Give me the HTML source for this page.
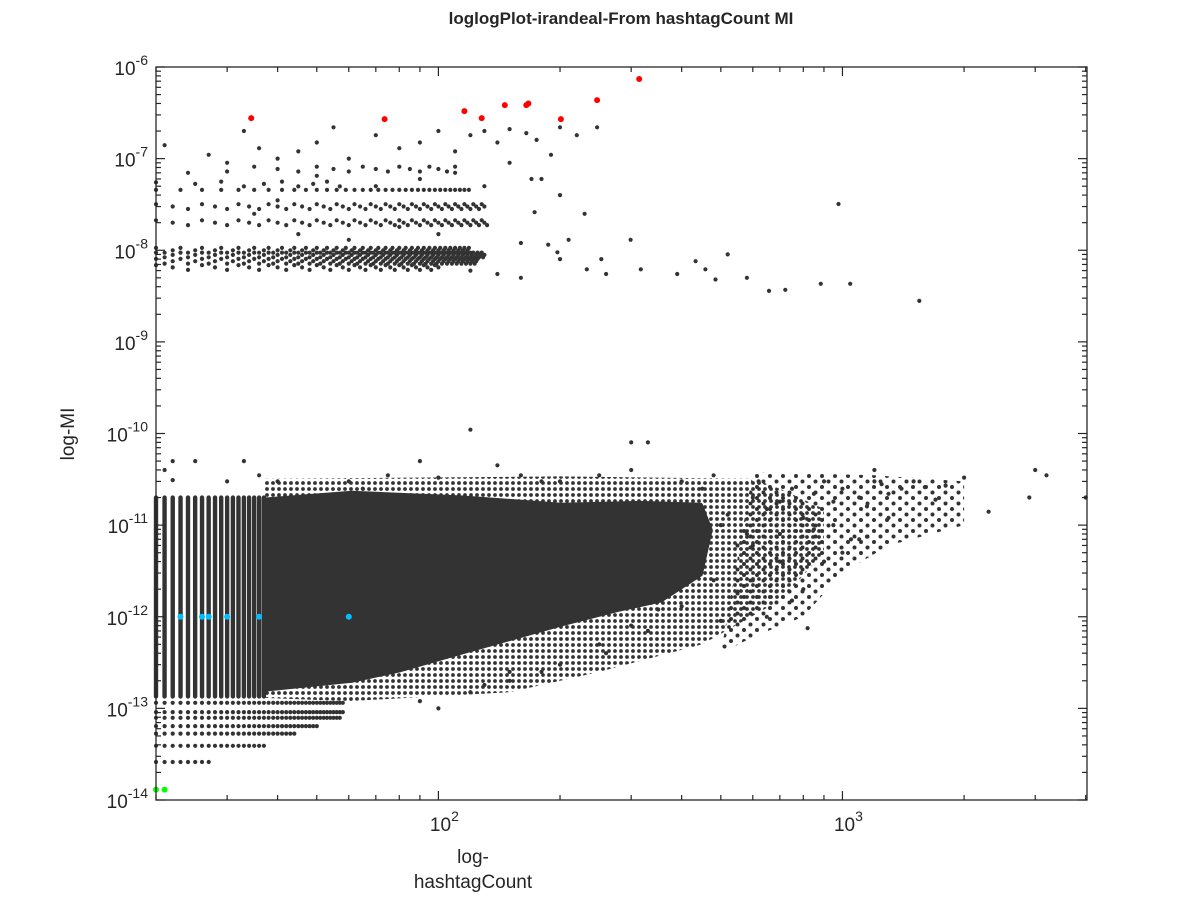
<!DOCTYPE html>
<html><head><meta charset="utf-8"><style>
body{margin:0;background:#fff;}
svg text{font-family:"Liberation Sans",sans-serif;fill:#262626;}
</style></head><body>
<svg id="chart" width="1200" height="900" viewBox="0 0 1200 900" xmlns="http://www.w3.org/2000/svg">
<defs>
<pattern id="medDots" patternUnits="userSpaceOnUse" width="6" height="6"><circle cx="3" cy="3" r="1.9" fill="#333"/></pattern>
<pattern id="sparseDots" patternUnits="userSpaceOnUse" width="13" height="11"><circle cx="3" cy="3" r="2" fill="#333"/><circle cx="9.5" cy="8.5" r="2" fill="#333"/></pattern>
</defs>
<rect width="1200" height="900" fill="#fff"/>
<rect x="156" y="67" width="931" height="733" fill="#fff"/>
<g id="marks"></g>
<g id="axes"></g>
<text x="621" y="24" font-size="17" font-weight="bold" text-anchor="middle">loglogPlot-irandeal-From hashtagCount MI</text>
<text x="473" y="863" font-size="19" text-anchor="middle">log-</text>
<text x="473" y="888" font-size="19" text-anchor="middle">hashtagCount</text>
<text transform="translate(74,434) rotate(-90)" font-size="19" text-anchor="middle">log-MI</text>
</svg>
<script>
const xMin=20, xMax=4030, yMin=1e-14, yMax=1e-6;
const L=156, R=1087, T=67, B=800;
const yTickExps=[-6,-7,-8,-9,-10,-11,-12,-13,-14];
const xTickExps=[2,3];
// dense cloud outline (count, MI)
const cloudX=[37,61,115,201,317,446,472,446,355,281,201,115,80,61,37];
const cloudY=[1.9e-11,2.26e-11,2.0e-11,1.67e-11,1.75e-11,1.67e-11,8.9e-12,2.9e-12,1.5e-12,1.2e-12,8.2e-13,4.1e-13,2.6e-13,2.0e-13,1.6e-13];
// medium-density zone outline
const medX=[37,200,600,700,900,900,700,450,250,150,60,37];
const medY=[3.2e-11,3.4e-11,3.2e-11,2.5e-11,1.5e-11,5e-12,1.5e-12,5e-13,2.5e-13,1.5e-13,1.2e-13,1.3e-13];
// sparse zone outline
const sparseX=[600,1200,2000,2000,1300,1000,800,600,500];
const sparseY=[3.8e-11,3.5e-11,3e-11,1e-11,6e-12,3e-12,1e-12,6e-13,4e-13];
// low-count vertical columns
const colCounts=[20,21,22,23,24,25,26,27,28,29,30,31,32,33,34,35,36,37];
const colTop=2.0e-11, colBottom=1.35e-13;
// discrete rows at bottom-left
const rowY=[1.15e-13,9.1e-14,7.9e-14,6.4e-14,5.3e-14,3.9e-14,2.6e-14];
const rowMax=[58,58,57,50,44,37,27];
// upper bands
const bandY=[1.0e-8,8.9e-9,7.6e-9,6.5e-9,2.0e-8,3.0e-8,4.3e-8,5.3e-8,7.7e-8];
const bandMin=[20,20,20,20,20,20,20,25,30];
const bandMax=[120,130,125,100,133,130,120,60,110];
const bandStep=[1,1,1,2,2,2,3,4,5];
const scatterX=[173,187,197,233,253,299,317,458,485,658,978,1550,1045,722,884,433,580,390,520,
20,21,24,27,30,33,36,40,45,50,55,60,70,80,90,100,110,120,130,140,150,165,175,190,200,247,220,110,150,170,200,230,90,70,130,50,40,35,45,60,80,100,160,210,180,200,260,160,140,120,
500,550,600,650,700,750,800,850,900,950,1000,1100,1150,1200,1250,1300,1400,1500,1600,1700,1800,2000,2300,3000,3200,2900,4000,1100,1150,1050,900,700,800,750,820,600,650,550,500,600,520,450,400,300,480,620,1200,1300,1000,850,950,700,580,450,420,380,350,300,250,200,150,120,180,260,330,400,480,100,90,130,150,
21,22,25,30,33,36,40,60,75,90,120,140,160,180,250,300,330,100,200,65,22];
const scatterY=[2.6e-8,1.15e-8,9.5e-9,6.2e-9,8.0e-9,1.3e-8,6.2e-9,6.2e-9,4.8e-9,3.6e-9,3.2e-8,2.8e-9,4.3e-9,3.7e-9,4.3e-9,7.6e-9,5e-9,5.5e-9,9e-9,
5.5e-8,1.4e-7,7e-8,1.1e-7,9e-8,2e-7,1.3e-7,1e-7,1.2e-7,1.5e-7,2.2e-7,1e-7,1.8e-7,1.3e-7,1.5e-7,2e-7,1.2e-7,1.8e-7,2e-7,1.5e-7,2.1e-7,1.9e-7,1.6e-7,1.1e-7,2.2e-7,2.2e-7,1.8e-7,7e-8,9e-8,6e-8,4e-8,2.5e-8,6e-8,5e-8,5e-8,6.5e-8,3.5e-8,2.5e-8,1.5e-8,1.3e-8,1.8e-8,1.5e-8,1.2e-8,1.3e-8,6e-8,8e-9,5.5e-9,5e-9,5.5e-9,6e-9,
1e-11,6e-12,2e-11,1.5e-11,8e-12,2.5e-11,1.2e-11,2.2e-11,3e-11,1.8e-11,2.5e-11,2e-11,1.6e-11,3e-11,2.8e-11,2.2e-11,2.5e-11,3e-11,2.6e-11,1.9e-11,2.7e-11,3.3e-11,1.4e-11,4e-11,3.5e-11,2e-11,2e-11,7e-12,7.5e-12,7e-12,4e-12,4e-12,2e-12,1.5e-12,7.5e-13,2.5e-12,1e-12,1.8e-12,9e-13,6e-12,1.3e-11,2.5e-11,3e-11,8e-11,3.5e-11,3e-11,4e-11,1.2e-11,5e-12,9e-12,1e-11,1.8e-11,8e-12,5e-12,3e-12,2e-12,1.2e-12,8e-13,5e-13,3e-13,2e-13,1.5e-13,2.5e-13,4e-13,7e-13,1.3e-12,2.5e-12,1e-13,1.2e-13,1.8e-13,2.5e-13,
4e-11,5e-11,5e-11,3e-11,5e-11,3.5e-11,3e-11,3e-11,3.5e-11,5e-11,1.1e-10,4.5e-11,3.5e-11,3e-11,3.5e-11,4e-11,8e-11,3.3e-11,3e-11,2.5e-11,3.1e-11];
const redX=[34.4,73.6,116,128,146,165,167,201,247,314];
const redY=[2.77e-7,2.7e-7,3.3e-7,2.77e-7,3.84e-7,3.84e-7,4.0e-7,2.7e-7,4.35e-7,7.4e-7];
const cyanX=[23,26,27,30,36,60];
const cyanY=[1e-12,1e-12,1e-12,1e-12,1e-12,1e-12];
const greenX=[20,21];
const greenY=[1.3e-14,1.3e-14];

const NS="http://www.w3.org/2000/svg";
function sx(v){return L+(Math.log10(v)-Math.log10(xMin))/(Math.log10(xMax)-Math.log10(xMin))*(R-L);}
function sy(v){return B-(Math.log10(v)-Math.log10(yMin))/(Math.log10(yMax)-Math.log10(yMin))*(B-T);}
const marks=document.getElementById('marks'), axes=document.getElementById('axes');
function mk(tag,parent,attrs){const e=document.createElementNS(NS,tag);for(const k in attrs)e.setAttribute(k,attrs[k]);parent.appendChild(e);return e;}
function dot(x,y,r,fill,name){const c=mk('circle',marks,{cx:sx(x).toFixed(1),cy:sy(y).toFixed(1),r:r,fill:fill});

}
const DK='#333333';
function polyPts(xs,ys){return xs.map((x,i)=>sx(x).toFixed(1)+','+sy(ys[i]).toFixed(1)).join(' ');}
const sp=mk('polygon',marks,{points:polyPts(sparseX,sparseY),fill:'url(#sparseDots)'});


const md=mk('polygon',marks,{points:polyPts(medX,medY),fill:'url(#medDots)'});


const poly=mk('polygon',marks,{points:polyPts(cloudX,cloudY),fill:DK,stroke:DK,'stroke-width':4,'stroke-linejoin':'round'});


colCounts.forEach(n=>{const ln=mk('line',marks,{x1:sx(n),x2:sx(n),y1:sy(colTop),y2:sy(colBottom),stroke:DK,'stroke-width':4.4,'stroke-linecap':'round'});

});
rowY.forEach((y,i)=>{for(let n=20;n<=rowMax[i];n++)dot(n,y,2.1,DK,'point');});
bandY.forEach((y,i)=>{for(let n=bandMin[i];n<=bandMax[i];n+=bandStep[i])dot(n,y*(1+0.06*((n%3)-1)),2.1,DK,'point');});
scatterX.forEach((x,i)=>dot(x,scatterY[i],2.1,DK,'point'));
redX.forEach((x,i)=>dot(x,redY[i],3,'#ff0000','red-point'));
cyanX.forEach((x,i)=>dot(x,cyanY[i],3,'#00bfff','cyan-point'));
greenX.forEach((x,i)=>dot(x,greenY[i],3,'#00ff00','green-point'));
// axes box
const box=mk('rect',axes,{x:L,y:T,width:R-L,height:B-T,fill:'none',stroke:'#262626','stroke-width':1.3});


function tick(x1,y1,x2,y2){mk('line',axes,{x1:x1,y1:y1,x2:x2,y2:y2,stroke:'#262626','stroke-width':1.2});}
for(let e=-14;e<-6;e++)for(let m=1;m<10;m++){const y=sy(m*Math.pow(10,e));const len=m==1?9:5;tick(L,y,L+len,y);tick(R,y,R-len,y);}
tick(L,T,L+9,T);tick(R,T,R-9,T);
for(let e=1;e<=3;e++)for(let m=1;m<10;m++){const v=m*Math.pow(10,e);if(v<xMin||v>xMax)continue;const x=sx(v);const len=m==1?9:5;tick(x,B,x,B-len);tick(x,T,x,T+len);}
yTickExps.forEach(e=>{const y=sy(Math.pow(10,e));const t=mk('text',axes,{x:L-8,y:y+8,'font-size':19,'text-anchor':'end'});


t.innerHTML='10<tspan dy="-10" font-size="14">'+e+'</tspan>';});
xTickExps.forEach(e=>{const x=sx(Math.pow(10,e));const t=mk('text',axes,{x:x+6,y:B+31,'font-size':19,'text-anchor':'middle'});


t.innerHTML='10<tspan dy="-10" font-size="14">'+e+'</tspan>';});
</script>
</body></html>
